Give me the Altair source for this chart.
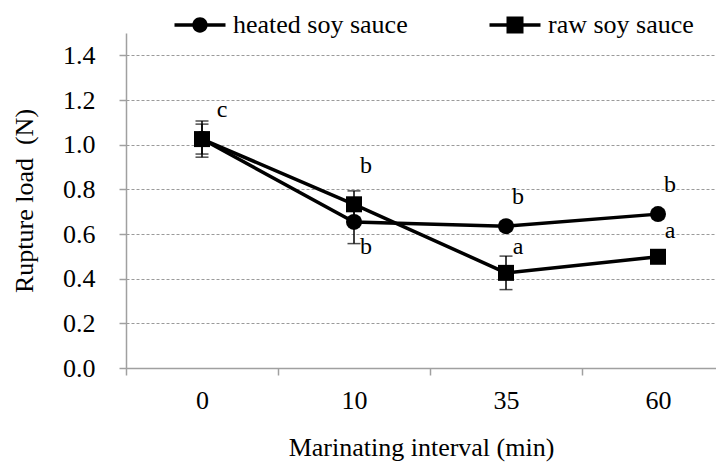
import altair as alt
import pandas as pd

# ---- data ----
categories = ["0", "10", "35", "60"]
series_names = ["heated soy sauce", "raw soy sauce"]
heated = [1.025, 0.654, 0.635, 0.689]
heated_err = [0.067, 0.097, 0.02, 0.02]
raw = [1.025, 0.733, 0.426, 0.498]
raw_err = [0.081, 0.060, 0.075, 0.02]

letters = ["b", "b", "a", "b", "a", "b"]
letter_cat = [1, 1, 2, 2, 3, 3]
letter_y = [0.905, 0.542, 0.542, 0.766, 0.614, 0.818]
c_letter = ["c"]
c_cat = [0]
c_y = [1.154]

rows = []
for s, vals, errs in [(series_names[0], heated, heated_err), (series_names[1], raw, raw_err)]:
    for i, (v, e) in enumerate(zip(vals, errs)):
        rows.append({"series": s, "xi": i, "y": v, "lo": v - e, "hi": v + e})
df = pd.DataFrame(rows)
df_letters = pd.DataFrame({"xi": letter_cat, "y": letter_y, "t": letters})
df_c = pd.DataFrame({"xi": c_cat, "y": c_y, "t": c_letter})

FONT = "Liberation Serif"
GRAY = "#a0a0a0"
W, H = 590, 335

xscale = alt.Scale(domain=[-0.5, -0.5 + W / 152], nice=False, zero=False)
yscale = alt.Scale(domain=[0, 1.5], nice=False)

label_expr = "['0','10','35','60'][round(datum.value + 0.5)]"

xaxis = alt.Axis(
    values=[-0.5, 0.5, 1.5, 2.5], labelExpr=label_expr, labelOffset=76,
    title="Marinating interval (min)", grid=False, tickSize=7,
    labelPadding=12, titlePadding=21, labelOverlap=False, labelFlush=False,
    labelBound=False,
)
yaxis = alt.Axis(
    values=[0, 0.2, 0.4, 0.6, 0.8, 1.0, 1.2, 1.4], format=".1f",
    title="Rupture load\u00a0 (N)", grid=True, gridDash=[3, 2],
    gridColor="#9a9a9a", gridWidth=1, tickSize=7, labelPadding=24,
    titlePadding=25,
)

X = alt.X("xi:Q", scale=xscale, axis=xaxis)
Y = alt.Y("y:Q", scale=yscale, axis=yaxis)

base = alt.Chart(df)

lines = base.mark_line(color="black", strokeWidth=3.5).encode(
    x=X, y=Y, detail="series:N"
)
rules = base.mark_rule(color="black", strokeWidth=1.5).encode(
    x="xi:Q", y="lo:Q", y2="hi:Q"
)
cap_lo = base.mark_tick(color="black", orient="horizontal", size=13, thickness=1.5).encode(
    x="xi:Q", y="lo:Q"
)
cap_hi = base.mark_tick(color="black", orient="horizontal", size=13, thickness=1.5).encode(
    x="xi:Q", y="hi:Q"
)
points = base.mark_point(filled=True, color="black", opacity=1, size=256).encode(
    x="xi:Q", y="y:Q",
    shape=alt.Shape("series:N", scale=alt.Scale(domain=series_names, range=["circle", "square"]), legend=None),
)

line_circle = "M-3,-0.2H3V0.2H-3Z M0.9,0A0.9,0.9 0 1,1 -0.9,0A0.9,0.9 0 1,1 0.9,0Z"
line_square = "M-3,-0.2H3V0.2H-3Z M-1,-1H1V1H-1Z"

legend_layer = base.transform_filter("false").mark_point(filled=True, color="black").encode(
    x="xi:Q", y="y:Q",
    shape=alt.Shape(
        "series:N",
        scale=alt.Scale(domain=series_names, range=[line_circle, line_square]),
        legend=alt.Legend(
            title=None, orient="none", direction="horizontal",
            legendX=61, legendY=-21, padding=0,
            symbolSize=289, symbolFillColor="black", symbolStrokeWidth=0,
            symbolOpacity=1, labelOffset=20, columnPadding=81,
            labelFont=FONT, labelFontSize=26, labelColor="black",
            labelLimit=400,
        ),
    ),
)

texts = alt.Chart(df_letters).mark_text(
    font=FONT, fontSize=24, color="black", dx=12, baseline="middle"
).encode(x="xi:Q", y="y:Q", text="t:N")
ctext = alt.Chart(df_c).mark_text(
    font=FONT, fontSize=24, color="black", dx=20, baseline="middle"
).encode(x="xi:Q", y="y:Q", text="t:N")

chart = (
    alt.layer(lines, rules, cap_lo, cap_hi, points, legend_layer, texts, ctext)
    .resolve_scale(shape="independent")
    .properties(
        width=W, height=H,
        autosize=alt.AutoSizeParams(type="none"),
        padding={"left": 118, "top": 25, "right": 0, "bottom": 100},
        background="white",
    )
    .configure_view(stroke=None)
    .configure_axis(
        domainColor=GRAY, domainWidth=1.5, tickColor=GRAY, tickWidth=1.5,
        labelFont=FONT, labelFontSize=26, labelColor="black",
        titleFont=FONT, titleFontSize=26, titleFontWeight="normal", titleColor="black",
    )
)

chart.save("out.html", embed_options={"renderer": "svg", "actions": False})
